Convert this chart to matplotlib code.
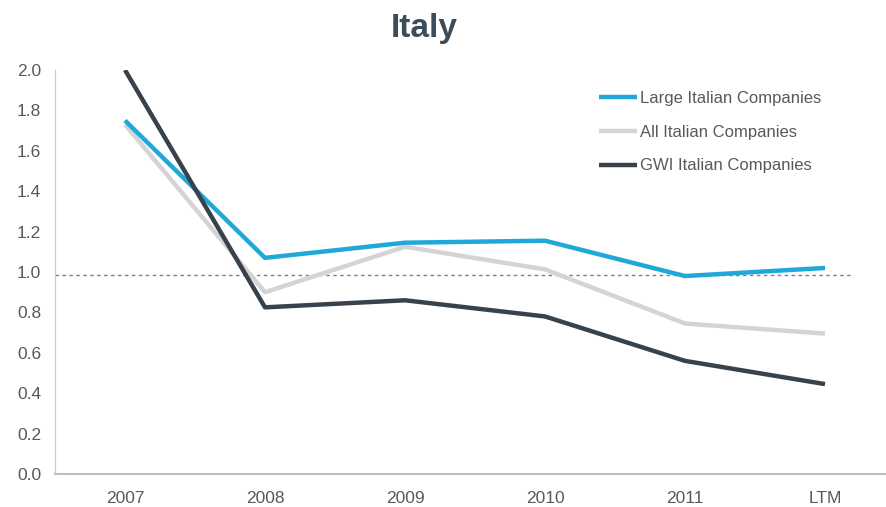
import matplotlib
matplotlib.use("Agg")
import matplotlib.pyplot as plt
from matplotlib.lines import Line2D

categories = ["2007", "2008", "2009", "2010", "2011", "LTM"]
large_italian = [1.75, 1.07, 1.145, 1.155, 0.98, 1.02]
all_italian = [1.73, 0.90, 1.125, 1.013, 0.745, 0.695]
gwi_italian = [2.00, 0.825, 0.86, 0.78, 0.56, 0.445]
reference_level = 0.985
y_ticks = [0.0, 0.2, 0.4, 0.6, 0.8, 1.0, 1.2, 1.4, 1.6, 1.8, 2.0]

series_names = ["Large Italian Companies", "All Italian Companies", "GWI Italian Companies"]
colors = ["#1FA8D8", "#D4D4D4", "#38424D"]

tick_font = ["Liberation Sans Narrow", "Liberation Sans", "DejaVu Sans"]

fig = plt.figure(figsize=(8.87, 5.07), dpi=100)
ax = fig.add_axes([55 / 887, 1 - 474 / 507, 840 / 887, (474 - 70) / 507])

x = list(range(len(categories)))
ax.hlines(reference_level, -0.5, 5.2, colors="#7F7F7F", linestyles=(0, (2.5, 2.5)),
          linewidth=1.0, zorder=1)

for vals, c, name in zip([all_italian, large_italian, gwi_italian],
                         [colors[1], colors[0], colors[2]],
                         [series_names[1], series_names[0], series_names[2]]):
    ax.plot(x, vals, color=c, linewidth=3.2, solid_capstyle="butt", zorder=3, label=name)

ax.set_xlim(-0.5, 5.5)
ax.set_ylim(0, 2.0)
ax.set_xticks(x)
ax.set_xticklabels(categories, fontfamily=tick_font, fontsize=12.5, color="#595959")
ax.set_yticks(y_ticks)
ax.set_yticklabels([f"{v:.1f}" for v in y_ticks], fontfamily=tick_font, fontsize=12.5, color="#595959")
ax.tick_params(axis="both", length=0)
ax.tick_params(axis="x", pad=12)
ax.tick_params(axis="y", pad=10)

for side in ["top", "right"]:
    ax.spines[side].set_visible(False)
ax.spines["left"].set_color("#C8C8C8")
ax.spines["bottom"].set_color("#BFBFBF")
ax.spines["bottom"].set_linewidth(1.5)

handles = [Line2D([], [], color=c, linewidth=3.2, solid_capstyle="butt") for c in colors]
leg = ax.legend(handles, series_names, loc="upper left",
                bbox_to_anchor=(584 / 887, 1 - 76 / 507), bbox_transform=fig.transFigure,
                frameon=False, handlelength=2.3, handletextpad=0.15, labelspacing=1.12,
                prop={"family": tick_font, "size": 12})
for t in leg.get_texts():
    t.set_color("#595959")

fig.text(424 / 887, 1 - 28 / 507, "Italy", ha="center", va="center",
         fontsize=24, fontweight="bold", color="#3D4C59", fontfamily="Liberation Sans")

fig.savefig("out.png", dpi=100)
